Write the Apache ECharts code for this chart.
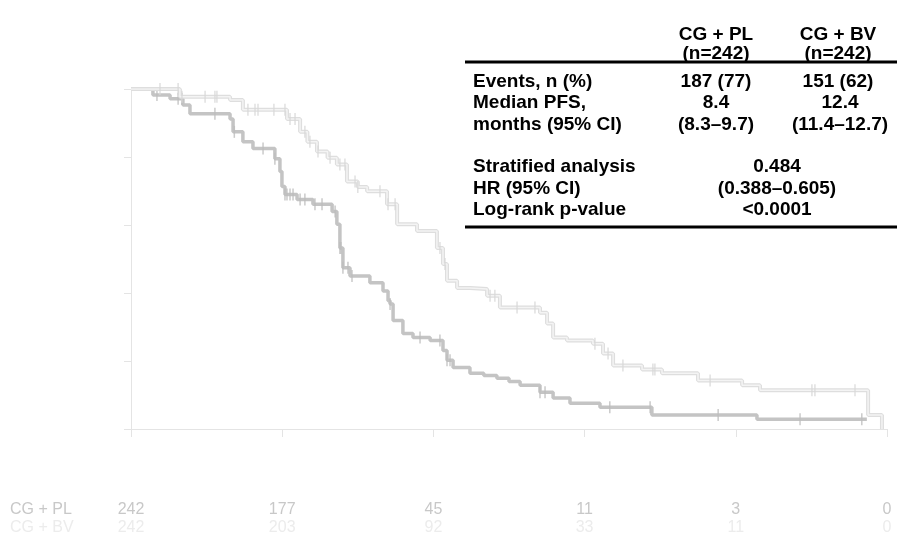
<!DOCTYPE html>
<html><head><meta charset="utf-8">
<script src="https://cdn.jsdelivr.net/npm/echarts@6/dist/echarts.min.js"></script>
<style>html,body{margin:0;padding:0;background:#fff}#c{width:897px;height:536px}</style>
</head><body><div id="c"></div>
<script>
// ---- data ----
const timeTicks = [0, 6, 12, 18, 24, 30];
const groupNames = ['CG + PL', 'CG + BV'];
const riskPL = [242, 177, 45, 11, 3, 0];
const riskBV = [242, 203, 92, 33, 11, 0];

// Kaplan-Meier step points (months, survival) - CG + PL
const plTimes = [0, 0.87, 1.55, 2.06, 2.34, 3.93, 4.05, 4.44, 4.84, 5.71, 5.91, 5.99, 6.11, 6.59, 7.22, 7.98, 8.17, 8.29, 8.41, 8.69, 9.48, 10.0, 10.2, 10.28, 10.4, 10.79, 11.19, 11.87, 12.38, 12.54, 12.78, 13.45, 14.0, 14.52, 15.0, 15.44, 16.23, 16.75, 17.42, 18.61, 20.67, 24.84, 29.2];
const plSurv  = [1.0, 0.982, 0.971, 0.953, 0.927, 0.912, 0.874, 0.845, 0.825, 0.795, 0.757, 0.713, 0.690, 0.675, 0.661, 0.640, 0.602, 0.532, 0.474, 0.450, 0.430, 0.406, 0.377, 0.368, 0.319, 0.281, 0.269, 0.260, 0.231, 0.202, 0.181, 0.164, 0.157, 0.149, 0.140, 0.129, 0.108, 0.091, 0.076, 0.064, 0.041, 0.029, 0.029];
const plCensor = [1.03, 1.87, 2.02, 3.33, 4.1, 5.24, 5.71, 6.11, 6.19, 6.31, 6.43, 6.71, 6.9, 7.3, 7.58, 8.1, 8.29, 8.33, 8.41, 8.61, 8.77, 10.28, 11.47, 12.26, 12.54, 12.66, 16.23, 16.43, 19.0, 20.6, 23.3, 26.55, 29.0];

// CG + BV
const bvTimes = [0, 1.94, 3.93, 4.44, 6.19, 6.71, 7.0, 7.38, 7.8, 8.17, 8.57, 9.0, 9.37, 10.16, 10.56, 11.35, 12.14, 12.38, 12.54, 12.94, 13.45, 14.13, 14.64, 16.23, 16.51, 16.75, 17.3, 18.33, 18.73, 19.13, 20.28, 21.07, 22.5, 24.25, 24.96, 29.25, 29.8];
const bvSurv  = [1.0, 0.977, 0.968, 0.939, 0.912, 0.874, 0.845, 0.816, 0.798, 0.778, 0.728, 0.712, 0.699, 0.661, 0.602, 0.582, 0.532, 0.485, 0.436, 0.415, 0.412, 0.392, 0.357, 0.342, 0.310, 0.269, 0.260, 0.251, 0.222, 0.187, 0.175, 0.164, 0.143, 0.129, 0.114, 0.041, 0];
const bvCensor = [1.15, 1.87, 2.02, 2.94, 3.33, 3.41, 4.64, 4.92, 5.04, 5.67, 6.11, 6.31, 6.51, 6.9, 7.1, 7.42, 7.9, 8.29, 8.49, 8.89, 9.0, 9.88, 10.2, 10.48, 12.26, 12.46, 14.25, 14.44, 15.32, 16.03, 18.41, 18.93, 19.52, 20.71, 20.79, 22.98, 27.02, 27.14, 28.73];

// summary table text
const tableHeaders = ['CG + PL\n(n=242)', 'CG + BV\n(n=242)'];
const rowLabels = ['Events, n (%)', 'Median PFS,\nmonths (95% CI)', 'Stratified analysis\nHR (95% CI)\nLog-rank p-value'];
const eventsVals = ['187 (77)', '151 (62)'];
const medianVals = ['8.4\n(8.3–9.7)', '12.4\n(11.4–12.7)'];
const stratVal = '0.484\n(0.388–0.605)\n<0.0001';

// ---- build ----
function zip(a, b) { return a.map((v, i) => [v, b[i]]); }
function survAt(times, surv, t) {
  let s = surv[0];
  for (let i = 0; i < times.length; i++) { if (times[i] <= t) s = surv[i]; else break; }
  return s;
}
const plCurve = zip(plTimes, plSurv);
const bvCurve = zip(bvTimes, bvSurv);
const plCens = plCensor.map(t => [t, survAt(plTimes, plSurv, t)]);
const bvCens = bvCensor.map(t => [t, survAt(bvTimes, bvSurv, t)]);

const axisCol = '#e4e4e4';
const FONT = '"Liberation Sans", Arial, sans-serif';
const chart = echarts.init(document.getElementById('c'), null, { renderer: 'canvas' });

function riskAxis(arr, margin, color) {
  return {
    type: 'value', gridIndex: 0, min: 0, max: 30, interval: 6, position: 'bottom',
    axisLine: { show: false }, axisTick: { show: false }, splitLine: { show: false },
    axisLabel: {
      show: true, margin: margin, color: color, fontSize: 16, fontFamily: FONT,
      showMinLabel: true, showMaxLabel: true,
      formatter: v => { const i = timeTicks.indexOf(v); return i >= 0 ? String(arr[i]) : ''; }
    }
  };
}

const boldFont = 'bold 19px ' + FONT;
const graphics = [
  { type: 'rect', shape: { x: 465, y: 60.5, width: 432, height: 3 }, style: { fill: '#000' } },
  { type: 'rect', shape: { x: 465, y: 225.5, width: 432, height: 3 }, style: { fill: '#000' } },
  { type: 'text', x: 716, y: 44, style: { text: tableHeaders[0], font: boldFont, fill: '#000', align: 'center', verticalAlign: 'middle', lineHeight: 19 } },
  { type: 'text', x: 838, y: 44, style: { text: tableHeaders[1], font: boldFont, fill: '#000', align: 'center', verticalAlign: 'middle', lineHeight: 19 } },
  { type: 'text', x: 473, y: 82, style: { text: rowLabels[0], font: boldFont, fill: '#000', align: 'left', verticalAlign: 'middle' } },
  { type: 'text', x: 473, y: 114, style: { text: rowLabels[1], font: boldFont, fill: '#000', align: 'left', verticalAlign: 'middle', lineHeight: 22 } },
  { type: 'text', x: 473, y: 188.5, style: { text: rowLabels[2], font: boldFont, fill: '#000', align: 'left', verticalAlign: 'middle', lineHeight: 21.5 } },
  { type: 'text', x: 716, y: 82, style: { text: eventsVals[0], font: boldFont, fill: '#000', align: 'center', verticalAlign: 'middle' } },
  { type: 'text', x: 838, y: 82, style: { text: eventsVals[1], font: boldFont, fill: '#000', align: 'center', verticalAlign: 'middle' } },
  { type: 'text', x: 716, y: 114, style: { text: medianVals[0], font: boldFont, fill: '#000', align: 'center', verticalAlign: 'middle', lineHeight: 22 } },
  { type: 'text', x: 840, y: 114, style: { text: medianVals[1], font: boldFont, fill: '#000', align: 'center', verticalAlign: 'middle', lineHeight: 22 } },
  { type: 'text', x: 777, y: 188.5, style: { text: stratVal, font: boldFont, fill: '#000', align: 'center', verticalAlign: 'middle', lineHeight: 21.5 } },
  { type: 'text', x: 10, y: 510, style: { text: groupNames[0], font: '16px ' + FONT, fill: '#c8c8c8', align: 'left', verticalAlign: 'middle' } },
  { type: 'text', x: 10, y: 528, style: { text: groupNames[1], font: '16px ' + FONT, fill: '#ececec', align: 'left', verticalAlign: 'middle' } }
];

chart.setOption({
  animation: false,
  backgroundColor: '#fff',
  grid: { left: 131, right: 10, top: 89, bottom: 107, containLabel: false },
  xAxis: [
    {
      type: 'value', min: 0, max: 30, interval: 6,
      axisLine: { show: true, lineStyle: { color: axisCol, width: 1 } },
      axisTick: { show: true, length: 8, lineStyle: { color: axisCol } },
      axisLabel: { show: false }, splitLine: { show: false }
    },
    riskAxis(riskPL, 73, '#c8c8c8'),
    riskAxis(riskBV, 91, '#ececec')
  ],
  yAxis: [
    {
      type: 'value', min: 0, max: 1, interval: 0.2,
      axisLine: { show: true, lineStyle: { color: axisCol, width: 1 } },
      axisTick: { show: false }, axisLabel: { show: false }, splitLine: { show: false }
    },
    {
      type: 'value', min: 0, max: 1, interval: 0.2, position: 'left', offset: 4,
      axisLine: { show: false },
      axisTick: { show: true, length: 7, lineStyle: { color: axisCol } },
      axisLabel: { show: false }, splitLine: { show: false }
    }
  ],
  series: [
    { type: 'line', step: 'end', data: plCurve, showSymbol: false, z: 3,
      lineStyle: { color: '#c4c4c4', width: 3.5 } },
    { type: 'scatter', data: plCens, symbol: 'rect', symbolSize: [1.5, 12], z: 4,
      itemStyle: { color: '#bdbdbd' } },
    { type: 'line', step: 'end', data: bvCurve, showSymbol: false, z: 5,
      lineStyle: { color: '#dedede', width: 4 } },
    { type: 'line', step: 'end', data: bvCurve, showSymbol: false, z: 6,
      lineStyle: { color: '#f4f4f4', width: 1.5 } },
    { type: 'scatter', data: bvCens, symbol: 'rect', symbolSize: [1.5, 12], z: 7,
      itemStyle: { color: '#d8d8d8' } }
  ],
  graphic: graphics
});
</script>
</body></html>
